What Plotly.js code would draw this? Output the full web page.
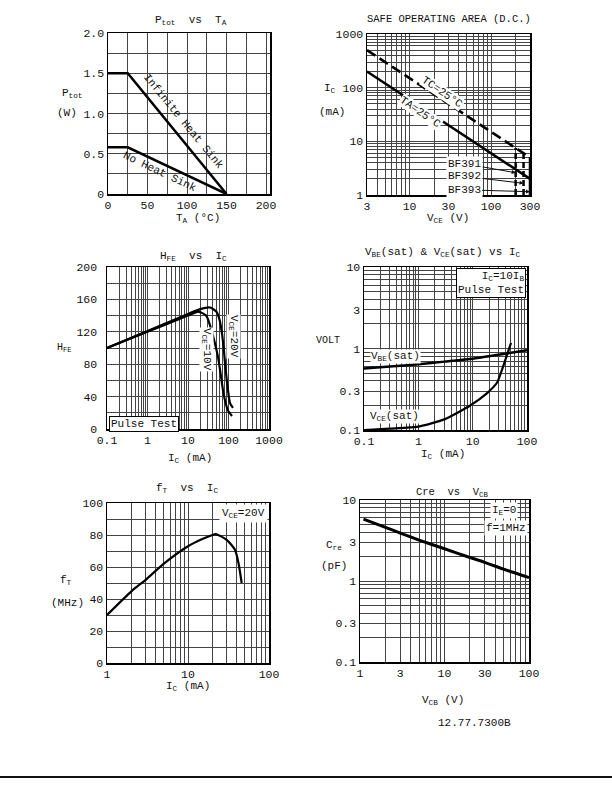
<!DOCTYPE html>
<html><head><meta charset="utf-8">
<script src="https://cdn.plot.ly/plotly-3.0.1.min.js"></script>
<style>html,body{margin:0;padding:0;background:#fff}#chart{width:612px;height:792px}</style>
</head><body><div id="chart"></div>
<script>
// ---------- DATA ----------
// Ptot vs TA
const ptotTa = [0, 25, 150];
const ptotInfinite = [1.5, 1.5, 0];
const ptotNoSink = [0.58, 0.58, 0];
const ptotXTicks = [0, 50, 100, 150, 200];
const ptotYTicks = [0, 0.5, 1.0, 1.5, 2.0];
const ptotYLabels = ['0', '0.5', '1.0', '1.5', '2.0'];

// Safe operating area
const soaVce = [3, 300];
const soaIcTa = [200, 2];
const soaIcTc = [500, 5];
const bfTypes = ['BF391', 'BF392', 'BF393'];
const bfVmax = [200, 250, 300];
const bfIcTop = [7.5, 6, 5];
const bfArrowIc = [2.6, 1.65, 1.15];
const soaXTicks = [3, 10, 30, 100, 300];
const soaYTicks = [1, 10, 100, 1000];

// HFE vs IC
const hfeIc20 = [0.1, 1, 10, 20, 35, 50, 60, 69, 76, 82, 90, 97, 109, 129];
const hfe20 = [100, 121, 142, 148, 150, 145, 135, 118, 100, 81, 62, 48, 32, 26];
const hfeIc10 = [0.1, 1, 10, 18, 28, 35, 45, 55, 64, 73, 84, 97, 122];
const hfe10 = [100, 120, 140, 145, 140, 128, 108, 89, 68, 48, 33, 23, 16];
const hfeXTicks = [0.1, 1, 10, 100, 1000];
const hfeYTicks = [0, 40, 80, 120, 160, 200];

// VBE(sat) & VCE(sat) vs IC
const satIcBe = [0.1, 0.3, 1, 3, 10, 30, 100];
const vbeSat = [0.57, 0.6, 0.64, 0.69, 0.75, 0.84, 0.95];
const satIcCe = [0.1, 0.3, 1, 3, 9, 18, 28, 36, 42, 48, 51];
const vceSat = [0.1, 0.104, 0.11, 0.135, 0.2, 0.28, 0.38, 0.59, 0.8, 1.05, 1.17];
const satXTicks = [0.1, 1, 10, 100];
const satYTicks = [0.1, 0.3, 1, 3, 10];

// fT vs IC
const ftIc = [1, 2, 3, 5, 10, 15, 20, 22, 30, 38, 42, 46];
const ft = [30, 44.8, 52, 62, 73, 77.5, 80, 80.6, 77, 70.8, 62.5, 50];
const ftXTicks = [1, 10, 100];
const ftYTicks = [0, 20, 40, 60, 80, 100];

// Cre vs VCB
const creVcb = [1.1, 2, 3, 5, 10, 20, 30, 50, 100];
const cre = [5.8, 4.6, 3.9, 3.2, 2.5, 1.95, 1.7, 1.4, 1.1];
const creXTicks = [1, 3, 10, 30, 100];
const creYTicks = [0.1, 0.3, 1, 3, 10];

// ---------- LAYOUT HELPERS ----------
const W = 612, H = 792;
const FONT = 'Liberation Mono, DejaVu Sans Mono, monospace';
const GRID = '#444';
function px(x) { return x / W; }
function py(y) { return 1 - y / H; }

function fmt(v) { return String(+v.toPrecision(6)); }
function linGrid(lo, hi, step) { const a = []; for (let v = lo; v <= hi + 1e-9; v += step) a.push(+v.toFixed(6)); return a; }
function logGrid(lo, hi) {
  const a = [];
  for (let e = Math.floor(Math.log10(lo)); e <= Math.ceil(Math.log10(hi)); e++)
    for (let d = 1; d <= 9; d++) { const v = +(d * Math.pow(10, e)).toPrecision(6); if (v >= lo * 0.999 && v <= hi * 1.001) a.push(v); }
  return a;
}
function labelsFor(grid, ticks, texts) {
  return grid.map(g => { const i = ticks.findIndex(t => Math.abs(t - g) <= 1e-6 * Math.max(1, Math.abs(t))); return i < 0 ? '' : (texts ? texts[i] : fmt(ticks[i])); });
}
function axis(box, isX, type, range, grid, ticks, texts, anchor) {
  const dom = isX ? [px(box[0]), px(box[1])] : [py(box[3]), py(box[2])];
  return {
    domain: dom, anchor: anchor, type: type, range: range, fixedrange: true,
    tickmode: 'array', tickvals: grid, ticktext: labelsFor(grid, ticks, texts),
    ticks: '', showgrid: true, gridcolor: GRID, gridwidth: 1, zeroline: false,
    showline: true, mirror: true, linecolor: '#000', linewidth: 1.5,
    tickfont: { family: FONT, size: 11.5, color: '#111' }
  };
}

// plot boxes [left, right, top, bottom] in pixels
const B1 = [108, 270, 33, 194];
const B2 = [367, 530, 34, 195];
const B3 = [107, 269, 267, 429];
const B4 = [364, 527, 267, 430];
const B5 = [107, 269, 503, 663];
const B6 = [360, 529, 500, 662];

const layout = {
  width: W, height: H, margin: { l: 0, r: 0, t: 0, b: 0 },
  paper_bgcolor: '#fff', plot_bgcolor: '#fff', showlegend: false,
  font: { family: FONT, size: 11, color: '#111' },
  xaxis: axis(B1, true, 'linear', [0, 205], linGrid(0, 200, 25), ptotXTicks, null, 'y'),
  yaxis: axis(B1, false, 'linear', [0, 2], linGrid(0, 2, 0.25), ptotYTicks, ptotYLabels, 'x'),
  xaxis2: axis(B2, true, 'log', [Math.log10(3), Math.log10(300)], logGrid(3, 300), soaXTicks, null, 'y2'),
  yaxis2: axis(B2, false, 'log', [0, 3], logGrid(1, 1000), soaYTicks, null, 'x2'),
  xaxis3: axis(B3, true, 'log', [-1, 3], logGrid(0.1, 1000), hfeXTicks, null, 'y3'),
  yaxis3: axis(B3, false, 'linear', [0, 200], linGrid(0, 200, 20), hfeYTicks, null, 'x3'),
  xaxis4: axis(B4, true, 'log', [-1, 2], logGrid(0.1, 100), satXTicks, null, 'y4'),
  yaxis4: axis(B4, false, 'log', [-1, 1], logGrid(0.1, 10), satYTicks, null, 'x4'),
  xaxis5: axis(B5, true, 'log', [0, 2], logGrid(1, 100), ftXTicks, null, 'y5'),
  yaxis5: axis(B5, false, 'linear', [0, 100], linGrid(0, 100, 10), ftYTicks, null, 'x5'),
  xaxis6: axis(B6, true, 'log', [0, 2], logGrid(1, 100), creXTicks, null, 'y6'),
  yaxis6: axis(B6, false, 'log', [-1, 1], logGrid(0.1, 10), creYTicks, null, 'x6'),
  annotations: [], shapes: []
};
layout.yaxis3.ticklabelstandoff = 6;

function ann(text, x, y, o) {
  return Object.assign({ xref: 'paper', yref: 'paper', x: px(x), y: py(y), text: text, showarrow: false,
    font: { family: FONT, size: 11, color: '#111' }, xanchor: 'center', yanchor: 'middle' }, o || {});
}
const A = layout.annotations;
// titles
A.push(ann('P<sub>tot</sub>  vs  T<sub>A</sub>', 191, 20));
A.push(ann('SAFE OPERATING AREA (D.C.)', 449, 19, { font: { family: FONT, size: 10.5, color: '#111' } }));
A.push(ann('H<sub>FE</sub>  vs  I<sub>C</sub>', 193, 256));
A.push(ann('V<sub>BE</sub>(sat) & V<sub>CE</sub>(sat) vs I<sub>C</sub>', 443, 253));
A.push(ann('f<sub>T</sub>  vs  I<sub>C</sub>', 187, 488));
A.push(ann('Cre  vs  V<sub>CB</sub>', 452, 492, { font: { family: FONT, size: 10.5, color: '#111' } }));
// axis labels
A.push(ann('P<sub>tot</sub>', 72, 93));
A.push(ann('(W)', 67, 113));
A.push(ann('T<sub>A</sub> (°C)', 198, 219));
A.push(ann('I<sub>C</sub>', 330, 89));
A.push(ann('(mA)', 332, 112));
A.push(ann('V<sub>CE</sub> (V)', 448, 218));
A.push(ann('H<sub>FE</sub>', 64, 348, { font: { family: FONT, size: 10, color: '#111' } }));
A.push(ann('I<sub>C</sub> (mA)', 190, 458));
A.push(ann('VOLT', 328, 340, { font: { family: FONT, size: 10, color: '#111' } }));
A.push(ann('I<sub>C</sub> (mA)', 443, 454));
A.push(ann('f<sub>T</sub>', 66, 580));
A.push(ann('(MHz)', 67, 603));
A.push(ann('I<sub>C</sub> (mA)', 188, 686));
A.push(ann('C<sub>re</sub>', 334, 545));
A.push(ann('(pF)', 334, 566));
A.push(ann('V<sub>CB</sub> (V)', 443, 700));
// in-plot labels
A.push(ann('Infinite Heat Sink', 183, 121, { textangle: 50.7 }));
A.push(ann('No Heat Sink', 160, 172, { textangle: 25.3 }));
A.push(ann('TC=25°C', 442, 92, { textangle: 34.5, bgcolor: '#fff', borderpad: 0 }));
A.push(ann('TA=25°C', 420, 112, { textangle: 34.5, bgcolor: '#fff', borderpad: 0 }));
const bfOff = [[-51, -9], [-59, -7], [-66, -2]];
bfTypes.forEach((t, i) => A.push({ xref: 'x2', yref: 'y2', x: Math.log10(bfVmax[i]), y: Math.log10(bfArrowIc[i]), text: t,
  showarrow: true, arrowhead: 2, arrowsize: 0.8, arrowwidth: 1, arrowcolor: '#111', ax: bfOff[i][0], ay: bfOff[i][1],
  bgcolor: '#fff', font: { family: FONT, size: 11, color: '#111' } }));
A.push(ann('V<sub>CE</sub>=10V', 207, 349, { textangle: 90, bgcolor: '#fff', borderpad: 0 }));
A.push(ann('V<sub>CE</sub>=20V', 234, 337, { textangle: 90, bgcolor: '#fff', borderpad: 0 }));
A.push(ann('Pulse Test', 109, 424, { xanchor: 'left', bgcolor: '#fff', bordercolor: '#000', borderwidth: 1, borderpad: 1 }));
A.push(ann('V<sub>BE</sub>(sat)', 395, 356, { bgcolor: '#fff', borderpad: 0 }));
A.push(ann('V<sub>CE</sub>(sat)', 394, 416, { bgcolor: '#fff', borderpad: 0 }));
A.push(ann('I<sub>C</sub>=10I<sub>B</sub><br>Pulse Test', 526, 268, { xanchor: 'right', yanchor: 'top', align: 'right', bgcolor: '#fff', bordercolor: '#000', borderwidth: 1, borderpad: 1 }));
A.push(ann('V<sub>CE</sub>=20V', 268, 504, { xanchor: 'right', yanchor: 'top', bgcolor: '#fff', borderpad: 2 }));
A.push(ann('I<sub>E</sub>=0', 504, 510, { bgcolor: '#fff' }));
A.push(ann('f=1MHz', 506, 528, { bgcolor: '#fff' }));
A.push(ann('12.77.7300B', 474, 723));

layout.shapes.push({ type: 'line', xref: 'paper', yref: 'paper', x0: 0, x1: 1, y0: py(777), y1: py(777), line: { color: '#111', width: 2 } });

const L = (w, dash) => ({ color: '#000', width: w, dash: dash || 'solid' });
const S = (w) => ({ color: '#000', width: w, shape: 'spline', smoothing: 0.6 });
const data = [
  { x: ptotTa, y: ptotInfinite, xaxis: 'x', yaxis: 'y', mode: 'lines', line: L(2.5) },
  { x: ptotTa, y: ptotNoSink, xaxis: 'x', yaxis: 'y', mode: 'lines', line: L(2.5) },
  { x: soaVce, y: soaIcTc, xaxis: 'x2', yaxis: 'y2', mode: 'lines', line: L(2.5, '10px,5px') },
  { x: soaVce, y: soaIcTa, xaxis: 'x2', yaxis: 'y2', mode: 'lines', line: L(2.5) }
];
bfVmax.forEach((v, i) => data.push({ x: [v, v], y: [1, bfIcTop[i]], xaxis: 'x2', yaxis: 'y2', mode: 'lines', line: L(2.5, i < 2 ? '6px,3px' : 'solid') }));
data.push(
  { x: hfeIc20, y: hfe20, xaxis: 'x3', yaxis: 'y3', mode: 'lines', line: S(2.2) },
  { x: hfeIc10, y: hfe10, xaxis: 'x3', yaxis: 'y3', mode: 'lines', line: S(2.2) },
  { x: satIcBe, y: vbeSat, xaxis: 'x4', yaxis: 'y4', mode: 'lines', line: S(2.5) },
  { x: satIcCe, y: vceSat, xaxis: 'x4', yaxis: 'y4', mode: 'lines', line: S(2.2) },
  { x: ftIc, y: ft, xaxis: 'x5', yaxis: 'y5', mode: 'lines', line: S(2.2) },
  { x: creVcb, y: cre, xaxis: 'x6', yaxis: 'y6', mode: 'lines', line: S(3) }
);
data.forEach(d => { d.hoverinfo = 'skip'; d.cliponaxis = true; });

Plotly.newPlot('chart', data, layout, { staticPlot: true });
</script></body></html>
